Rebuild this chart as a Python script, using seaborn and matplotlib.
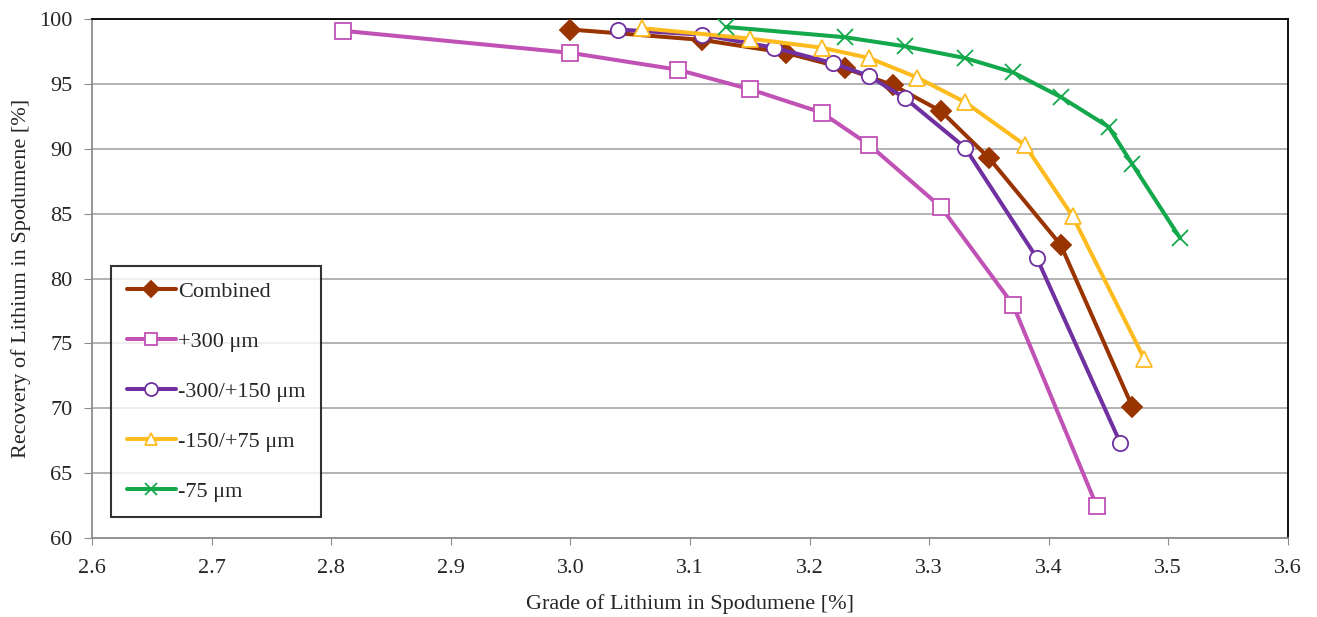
import matplotlib
matplotlib.use('Agg')
import matplotlib.pyplot as plt
import seaborn as sns

# grade (x) and recovery (y) per size fraction
combined_x = [3.00, 3.11, 3.18, 3.23, 3.27, 3.31, 3.35, 3.41, 3.47]
combined_y = [99.2, 98.4, 97.4, 96.2, 94.9, 92.9, 89.3, 82.6, 70.1]

p300_x = [2.81, 3.00, 3.09, 3.15, 3.21, 3.25, 3.31, 3.37, 3.44]
p300_y = [99.1, 97.4, 96.1, 94.6, 92.8, 90.3, 85.5, 78.0, 62.5]

m300_x = [3.04, 3.11, 3.17, 3.22, 3.25, 3.28, 3.33, 3.39, 3.46]
m300_y = [99.2, 98.8, 97.8, 96.6, 95.6, 93.9, 90.1, 81.6, 67.3]

m150_x = [3.06, 3.15, 3.21, 3.25, 3.29, 3.33, 3.38, 3.42, 3.48]
m150_y = [99.3, 98.5, 97.8, 97.0, 95.5, 93.6, 90.3, 84.8, 73.8]

m75_x = [3.13, 3.23, 3.28, 3.33, 3.37, 3.41, 3.45, 3.47, 3.51]
m75_y = [99.4, 98.6, 97.9, 97.0, 95.9, 94.0, 91.7, 88.8, 83.1]

labels = ['Combined', '+300 \u03bcm', '-300/+150 \u03bcm', '-150/+75 \u03bcm', '-75 \u03bcm']
colors = ['#993300', '#C052B5', '#7030A0', '#FDBB1E', '#12A84B']
markers = ['D', 's', 'o', '^', 'x']

sns.set_style('white')
plt.rcParams['font.family'] = ['Liberation Serif', 'DejaVu Serif']
plt.rcParams['font.size'] = 16

fig = plt.figure(figsize=(13.17, 6.17), dpi=100)
ax = fig.add_axes([0.0699, 0.128, 0.908, 0.841])

series = [(combined_x, combined_y), (p300_x, p300_y), (m300_x, m300_y),
          (m150_x, m150_y), (m75_x, m75_y)]

for (xs, ys), lab, col, mk in zip(series, labels, colors, markers):
    face = 'white'
    if mk in ('D', 'x'):
        face = col
    ms = 10 if mk == 'D' else 11
    sns.lineplot(x=xs, y=ys, ax=ax, color=col, linewidth=2.9, marker=mk,
                 markersize=ms, markerfacecolor=face, markeredgecolor=col,
                 markeredgewidth=1.3, sort=False, label=lab, zorder=3)

ax.set_xlim(2.6, 3.6)
ax.set_ylim(60, 100)
ax.set_xticks([2.6 + 0.1 * i for i in range(11)])
ax.set_xticklabels(['{:.1f}'.format(2.6 + 0.1 * i) for i in range(11)])
ax.set_yticks(range(60, 101, 5))
ax.yaxis.grid(True, color='#A6A6A6', linewidth=1.2)
ax.xaxis.grid(False)
for s in ax.spines.values():
    s.set_color('black')
    s.set_linewidth(1.3)
ax.spines['left'].set_color('#8C8C8C')
ax.spines['bottom'].set_color('#8C8C8C')
ax.tick_params(axis='x', length=5, direction='out', bottom=True,
               color='#8C8C8C', pad=10, labelsize=16)
ax.tick_params(axis='y', length=6, direction='out', left=True,
               color='#8C8C8C', pad=8, labelsize=16)

ax.set_xlabel('Grade of Lithium in Spodumene [%]', fontsize=16, labelpad=12)
ax.set_ylabel('Recovery of Lithium in Spodumene [%]', fontsize=16, labelpad=6)

leg = ax.legend(loc='lower left', bbox_to_anchor=(0.016, 0.04), frameon=True,
                fancybox=False, edgecolor='black', labelspacing=1.32,
                handlelength=2.2, borderpad=0.7, handletextpad=0.1,
                borderaxespad=0, fontsize=16, markerscale=0.85)
leg.get_frame().set_linewidth(1.5)

plt.savefig('out.png', dpi=100)
